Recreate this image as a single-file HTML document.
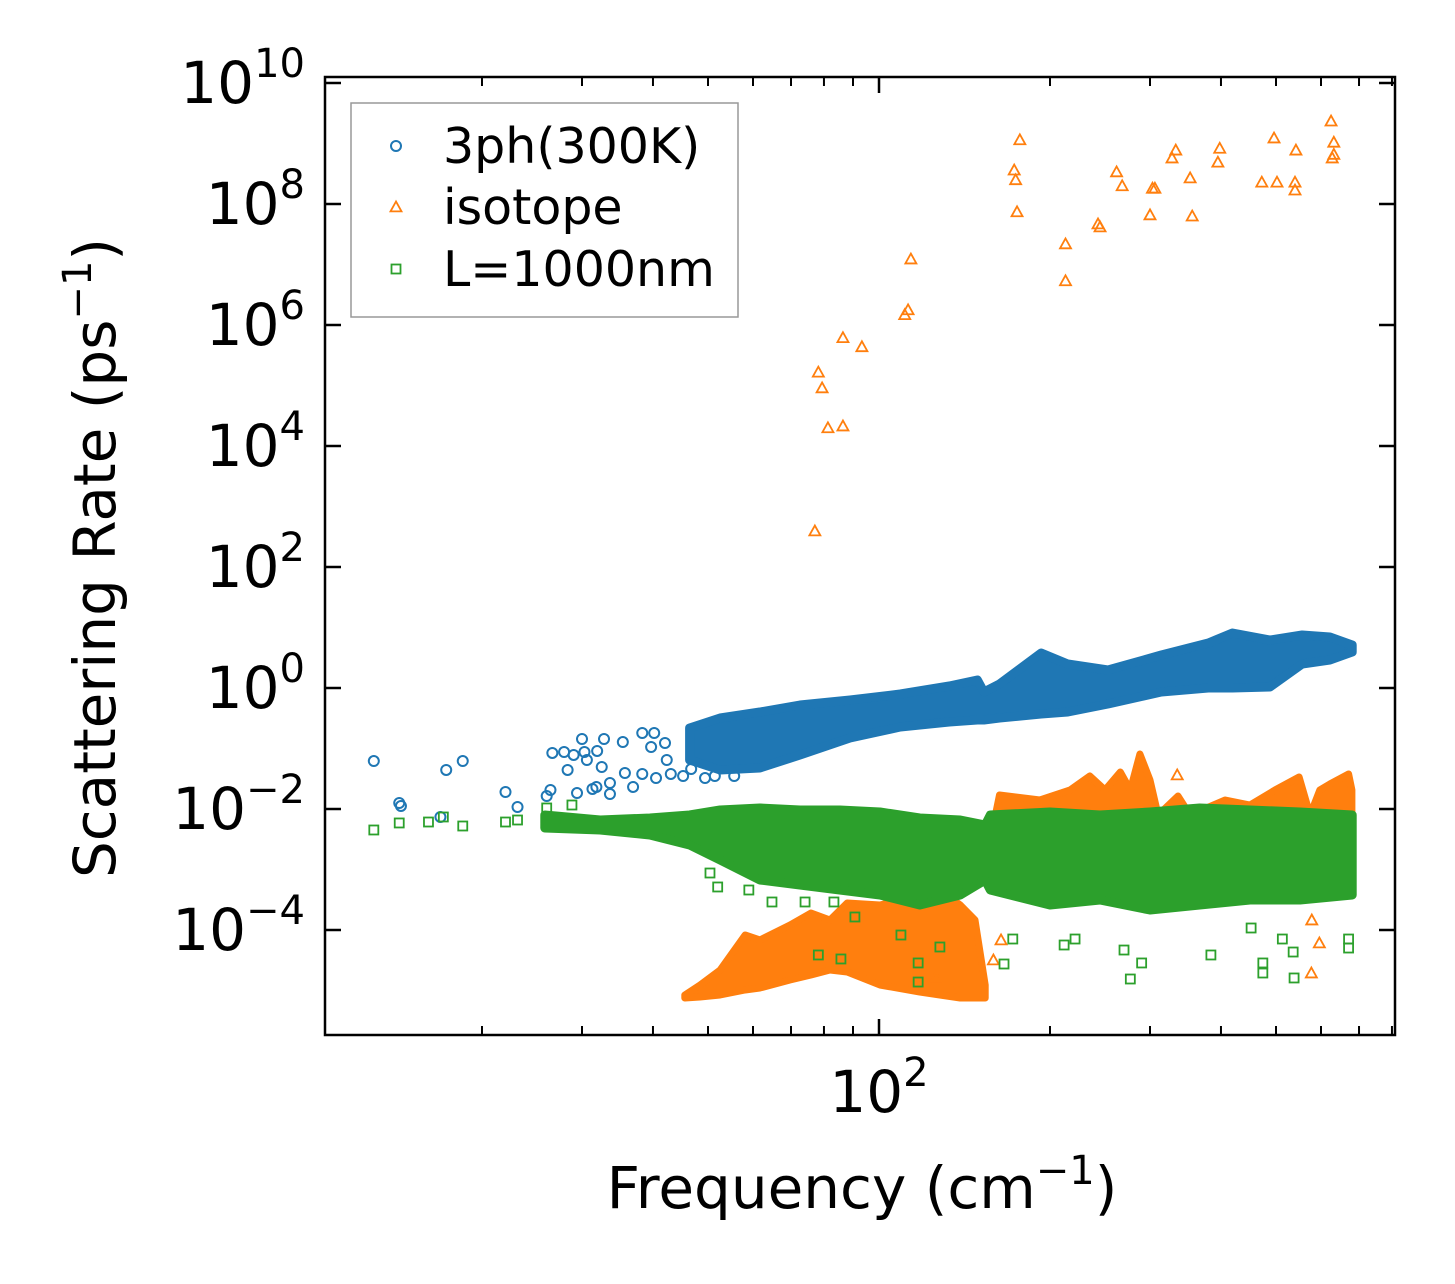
<!DOCTYPE html>
<html><head><meta charset="utf-8"><style>
html,body{margin:0;padding:0;background:#fff;}
svg{display:block;font-family:"DejaVu Sans","Liberation Sans",sans-serif;}
</style></head><body>
<svg id="chart" width="1455" height="1284" viewBox="0 0 1455 1284" xmlns="http://www.w3.org/2000/svg">
<rect width="1455" height="1284" fill="#fff"/>
<g id="plot"></g>
<g id="axes"></g>
<g id="legend"></g>
</svg>
<script>
// ---- data (frequency in cm^-1, rate as log10 of ps^-1) ----
const blueFreq = [12.9,14.3,14.4,17.3,18.5,16.9,22.0,23.1,26.0,26.4,26.6,27.9,28.3,29.0,29.4,30.0,30.3,30.6,31.9,32.8,32.5,33.6,33.6,35.4,35.7,36.9,38.3,38.3,40.2,39.7,40.5,42.0,42.3,43.0,45.2,46.7,49.4,51.4,55.6,31.3,31.8];
const blueLogRate = [-1.207,-1.901,-1.950,-1.355,-1.207,-2.132,-1.719,-1.967,-1.785,-1.686,-1.074,-1.058,-1.355,-1.107,-1.736,-0.843,-1.058,-1.190,-1.041,-0.843,-1.306,-1.570,-1.752,-0.893,-1.405,-1.636,-1.421,-0.744,-0.744,-0.975,-1.488,-0.909,-1.190,-1.421,-1.455,-1.339,-1.488,-1.455,-1.455,-1.669,-1.636];
const blueBandFreq = [46.4,52.5,61.7,72.6,88.9,109,133,149,153,163,193,215,253,314,380,419,488,556,622,681];
const blueBandTop = [-0.661,-0.496,-0.397,-0.281,-0.198,-0.099,0.033,0.132,-0.066,0.066,0.579,0.397,0.298,0.545,0.744,0.909,0.793,0.876,0.843,0.711];
const blueBandBottom = [-1.190,-1.355,-1.322,-1.107,-0.826,-0.645,-0.562,-0.529,-0.529,-0.496,-0.430,-0.397,-0.264,-0.066,0,0,0.017,0.397,0.463,0.595];

const orangeFreq = [77.1,78.2,79.4,81.3,86.4,86.4,93.3,111,112.5,113.8,173,174,177,175,213,213,243,245,262,268,303,306,300,328,333,353,356,395,398,472,496,502,540,540,542,625,632,628,632,335,577,596,578,164,159,126];
const orangeLogRate = [2.595,5.22,4.96,4.30,4.33,5.79,5.64,6.17,6.25,7.09,8.56,8.40,9.06,7.87,7.34,6.73,7.67,7.62,8.53,8.30,8.26,8.26,7.82,8.76,8.89,8.43,7.80,8.69,8.92,8.36,9.09,8.36,8.36,8.23,8.89,9.37,9.02,8.76,8.82,-1.438,-4.711,-4.215,-3.835,-4.165,-4.496,-4.777];
const orangeLowFreq = [45.5,48.4,52.5,58.1,61.7,69.7,75.9,82.0,87.9,100.4,118,128,139,147.6,153.8];
const orangeLowTop = [-5.074,-4.909,-4.661,-4.083,-4.165,-3.917,-3.719,-3.835,-3.554,-3.587,-3.421,-3.339,-3.587,-3.835,-4.909];
const orangeLowBottom = [-5.124,-5.107,-5.074,-4.992,-4.959,-4.826,-4.744,-4.661,-4.694,-4.909,-5.025,-5.074,-5.124,-5.124,-5.124];
const orangeHighFreq = [157,163,192,217,235,250,266,277,288,300,310,336,353,407,450,498,549,574,597,622,671,680];
const orangeHighTop = [-2.512,-1.769,-1.851,-1.686,-1.455,-1.686,-1.388,-1.686,-1.091,-1.521,-2.099,-1.785,-2.099,-1.851,-1.934,-1.686,-1.471,-2.099,-1.686,-1.587,-1.421,-1.686];
const orangeHighBottom = [-2.84,-2.84,-2.84,-2.84,-2.84,-2.84,-2.84,-2.84,-2.84,-2.84,-2.84,-2.84,-2.84,-2.84,-2.84,-2.84,-2.84,-2.84,-2.84,-2.84,-2.84,-2.84];

const greenFreq = [12.9,14.3,16.1,17.1,18.5,22.0,23.1,26.0,28.8,50.4,52.0,59.0,64.8,74.1,83.3,90.7,78.2,85.7,109.3,117.2,117.2,211.8,221.4,270,277,290,384,474,474,538,536,671,671,166,172,452,513,128];
const greenLogRate = [-2.347,-2.231,-2.215,-2.132,-2.281,-2.215,-2.182,-1.983,-1.934,-3.058,-3.289,-3.339,-3.537,-3.537,-3.537,-3.785,-4.413,-4.479,-4.083,-4.545,-4.860,-4.248,-4.149,-4.331,-4.810,-4.545,-4.413,-4.545,-4.711,-4.793,-4.364,-4.298,-4.149,-4.562,-4.149,-3.967,-4.149,-4.281];
const greenBandFreq = [25.8,32.3,39.5,46.4,52.5,61.7,72.6,85.3,100.4,118,139,153.8,157,200,245,300,367,450,551,681];
const greenBandTop = [-2.099,-2.182,-2.149,-2.099,-2.017,-1.983,-2.017,-2.017,-2.050,-2.149,-2.182,-2.264,-2.099,-2.050,-2.099,-2.050,-1.983,-2.017,-2.050,-2.099];
const greenBandBottom = [-2.314,-2.347,-2.430,-2.595,-2.843,-3.174,-3.256,-3.339,-3.421,-3.587,-3.421,-3.174,-3.339,-3.587,-3.504,-3.669,-3.587,-3.504,-3.504,-3.421];

const yTickExp = [-4,-2,0,2,4,6,8,10];
const xMinorTicks = [20,30,40,50,60,70,80,90,200,300,400,500,600,700,800];
const xMajorTicks = [100];

// ---- axis functions ----
const L=325,R=1395,T=77,B=1035;
function xs(f){return 879+(Math.log10(f)-2)*568;}
function ys(lg){return 688-lg*60.5;}
const NS="http://www.w3.org/2000/svg";
function mk(tag,attrs,parent){const e=document.createElementNS(NS,tag);for(const k in attrs)e.setAttribute(k,attrs[k]);parent.appendChild(e);return e;}
const plot=document.getElementById('plot'), axes=document.getElementById('axes'), legend=document.getElementById('legend');
const C_BLUE='#1f77b4',C_OR='#ff7f0e',C_GR='#2ca02c';

function band(fr,top,bot,color,sw,name){
  let pts=[];
  for(let i=0;i<fr.length;i++)pts.push(xs(fr[i]).toFixed(1)+','+ys(top[i]).toFixed(1));
  for(let i=fr.length-1;i>=0;i--)pts.push(xs(fr[i]).toFixed(1)+','+ys(bot[i]).toFixed(1));
  const p=mk('polygon',{points:pts.join(' '),fill:color,stroke:color,'stroke-width':sw,'stroke-linejoin':'round'},plot);
  
  
}
function circle(x,y,parent,name){const e=mk('circle',{cx:x,cy:y,r:5,fill:'none',stroke:C_BLUE,'stroke-width':2},parent);
  
  }
function tri(x,y,parent,name){const s=5.5;const e=mk('polygon',{points:`${x},${y-s} ${x-s},${y+s*0.8} ${x+s},${y+s*0.8}`,fill:'none',stroke:C_OR,'stroke-width':1.8},parent);
  
  }
function sq(x,y,parent,name){const e=mk('rect',{x:x-4.5,y:y-4.5,width:9,height:9,fill:'none',stroke:C_GR,'stroke-width':1.8},parent);
  
  }

// blue
band(blueBandFreq,blueBandTop,blueBandBottom,C_BLUE,9,'3ph-dense-band');
for(let i=0;i<blueFreq.length;i++)circle(xs(blueFreq[i]),ys(blueLogRate[i]),plot,'3ph-point');
// orange bands
band(orangeLowFreq,orangeLowTop,orangeLowBottom,C_OR,7,'isotope-low-band');
band(orangeHighFreq,orangeHighTop,orangeHighBottom,C_OR,7,'isotope-high-band');
for(let i=0;i<orangeFreq.length;i++)tri(xs(orangeFreq[i]),ys(orangeLogRate[i]),plot,'isotope-point');
// green
band(greenBandFreq,greenBandTop,greenBandBottom,C_GR,9,'boundary-dense-band');
for(let i=0;i<greenFreq.length;i++)sq(xs(greenFreq[i]),ys(greenLogRate[i]),plot,'boundary-point');

// frame
const fr=mk('rect',{x:L,y:T,width:R-L,height:B-T,fill:'none',stroke:'#000','stroke-width':2.5},axes);


// y ticks
yTickExp.forEach(e=>{
  const y=ys(e);
  mk('line',{x1:L,x2:L+16,y1:y,y2:y,stroke:'#000','stroke-width':2.5},axes);
  mk('line',{x1:R-16,x2:R,y1:y,y2:y,stroke:'#000','stroke-width':2.5},axes);
  const t=mk('text',{x:305,y:y+20,'font-size':58,'text-anchor':'end',fill:'#000'},axes);
  
  
  const lab=String(e).replace('-','\u2212');
  t.innerHTML='10<tspan dy="-26" font-size="40">'+lab+'</tspan>';
});
// x ticks
xMinorTicks.forEach(f=>{const x=xs(f);
  mk('line',{x1:x,x2:x,y1:B,y2:B-9,stroke:'#000','stroke-width':2},axes);
  mk('line',{x1:x,x2:x,y1:T,y2:T+9,stroke:'#000','stroke-width':2},axes);});
xMajorTicks.forEach(f=>{const x=xs(f);
  mk('line',{x1:x,x2:x,y1:B,y2:B-16,stroke:'#000','stroke-width':2.5},axes);
  mk('line',{x1:x,x2:x,y1:T,y2:T+16,stroke:'#000','stroke-width':2.5},axes);
  const t=mk('text',{x:x,y:1112,'font-size':58,'text-anchor':'middle',fill:'#000'},axes);
  
  
  t.innerHTML='10<tspan dy="-26" font-size="40">'+Math.round(Math.log10(f))+'</tspan>';});
// axis titles
const xt=mk('text',{x:862,y:1208,'font-size':58,'text-anchor':'middle',fill:'#000'},axes);


xt.innerHTML='Frequency (cm<tspan dy="-24" font-size="40">\u22121</tspan><tspan dy="24">)</tspan>';
const yt=mk('text',{x:0,y:0,'font-size':58,'text-anchor':'middle',fill:'#000',transform:'translate(115,558) rotate(-90)'},axes);


yt.innerHTML='Scattering Rate (ps<tspan dy="-24" font-size="40">\u22121</tspan><tspan dy="24">)</tspan>';

// legend
const lb=mk('rect',{x:351,y:103,width:387,height:214,fill:'#fff',stroke:'#999','stroke-width':1.5},legend);


const entries=[['3ph(300K)',146,circle,'legend-3ph'],['isotope',207,tri,'legend-isotope'],['L=1000nm',269,sq,'legend-boundary']];
entries.forEach(en=>{
  en[2](396,en[1],legend,en[3]+'-marker');
  const t=mk('text',{x:443,y:en[1]+17,'font-size':49,fill:'#000'},legend);
  
  
  t.textContent=en[0];
});
</script>
</body></html>
